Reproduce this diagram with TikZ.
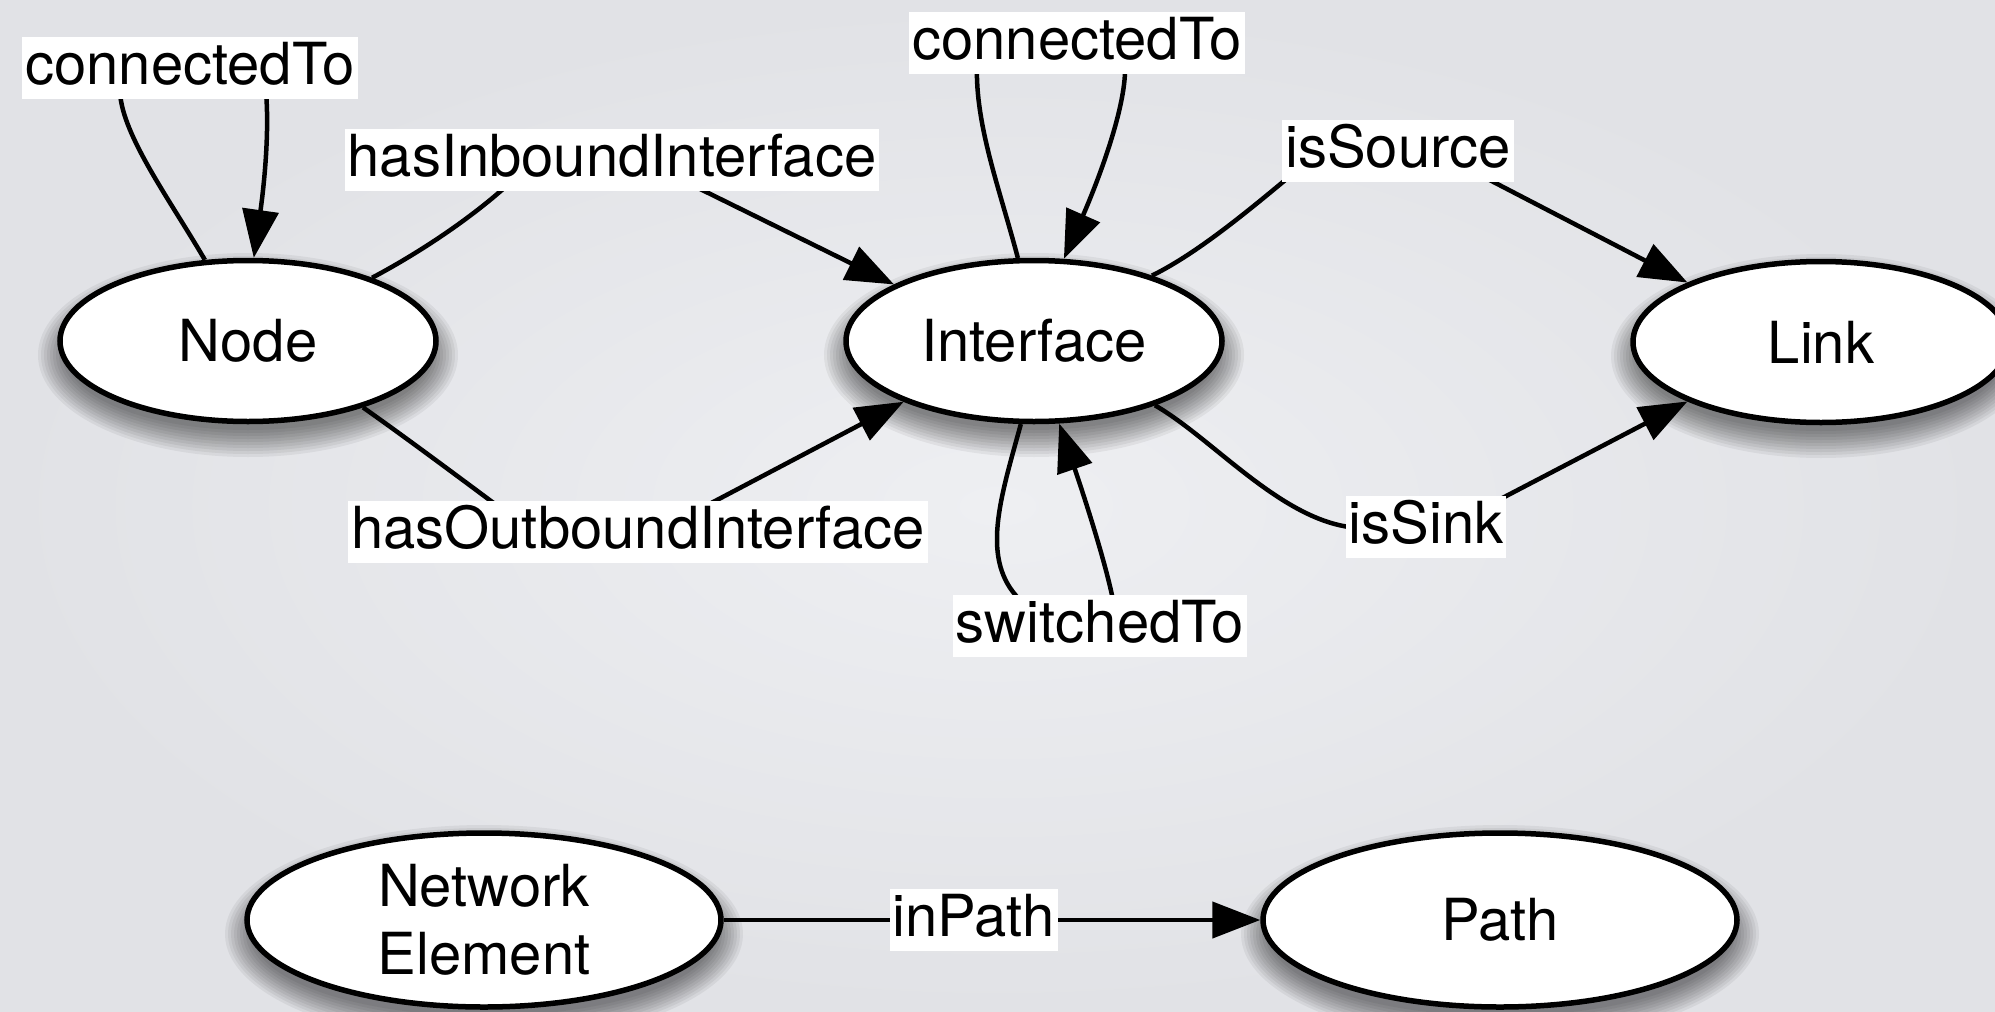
\documentclass[tikz,border=0pt]{standalone}
\usepackage{fontspec}
\setmainfont{TeX Gyre Heros}
\usetikzlibrary{arrows.meta,shapes.geometric,calc}
\pgfdeclarelayer{bg}
\pgfdeclarelayer{edges}
\pgfsetlayers{bg,edges,main}
\definecolor{bgin}{RGB}{238,239,242}
\definecolor{bgout}{RGB}{225,226,230}
\tikzset{
  cls/.style={ellipse, draw=black, line width=5.5pt, fill=white,
    minimum width=376pt, minimum height=161pt, inner sep=0pt,
    font=\fontsize{58}{68}\selectfont, align=center},
  bigcls/.style={cls, minimum width=474pt, minimum height=174pt},
  lbl/.style={fill=white, inner xsep=3pt, inner ysep=3pt, text height=44pt,
    text depth=12pt, font=\fontsize{58}{68}\selectfont},
  edge/.style={line width=4.5pt, -{Triangle[length=48pt,width=36pt]}}
}
\newcommand\clsshadow[3]{%
  \foreach \k in {0,...,9}{%
    \fill[black,opacity=0.055] ([yshift=-14pt]#1.center) ellipse
      [x radius={(#2-8+3*\k)*1pt}, y radius={(#3-8+3*\k)*1pt}];
  }}
\begin{document}
\begin{tikzpicture}[x=1pt,y=-1pt]
\useasboundingbox (0,0) rectangle (1995,1012);
\begin{pgfonlayer}{bg}
  \shade[inner color=bgin, outer color=bgout] (0,0) rectangle (1995,1012);
\end{pgfonlayer}

% classes
\node[cls] (nNode) at (248,341) {Node};
\node[cls] (nIface) at (1034,341) {Interface};
\node[cls] (nLink) at (1821,342) {Link};
\node[bigcls] (nNE) at (484,920) {Network\\Element};
\node[bigcls] (nPath) at (1500,920) {Path};

\begin{pgfonlayer}{bg}
  \clsshadow{nNode}{191}{83}
  \clsshadow{nIface}{191}{83}
  \clsshadow{nLink}{191}{83}
  \clsshadow{nNE}{240}{90}
  \clsshadow{nPath}{240}{90}
\end{pgfonlayer}

% edge labels
\node[lbl] (lA) at (190,68) {connectedTo};
\node[lbl] (lB) at (612,160) {hasInboundInterface};
\node[lbl] (lC) at (638,532) {hasOutboundInterface};
\node[lbl] (lD) at (1077,43) {connectedTo};
\node[lbl] (lE) at (1398,151) {isSource};
\node[lbl] (lF) at (1426,527) {isSink};
\node[lbl] (lG) at (1100,626) {switchedTo};

\begin{pgfonlayer}{edges}
\draw[edge] (nNode.118) .. controls (170,200) and (122,135) .. (120,92)
  .. controls (118,55) and (268,55) .. (266,92)
  .. controls (270,140) and (262,200) .. (nNode.86);
\draw[edge] (nNode.27) .. controls (415,255) and (470,220) .. (513,180)
  .. controls (540,155) and (660,165) .. (690,184) -- (nIface.158);
\draw[edge] (nNode.-30) .. controls (405,437) and (460,478) .. (503,510)
  .. controls (540,530) and (670,530) .. (698,510) -- (nIface.205);
\draw[edge] (nIface.101) .. controls (1000,190) and (975,125) .. (977,65)
  .. controls (978,45) and (1124,45) .. (1125,65)
  .. controls (1127,110) and (1092,195) .. (nIface.70);
\draw[edge] (nIface.29) .. controls (1200,252) and (1255,205) .. (1295,172)
  .. controls (1330,150) and (1450,150) .. (1480,175) -- (nLink.156);
\draw[edge] (nIface.-28) .. controls (1215,440) and (1285,525) .. (1360,528)
  .. controls (1420,530) and (1470,520) .. (1489,505) -- (nLink.204);
\draw[edge] (nIface.261) .. controls (1000,500) and (980,560) .. (1020,600)
  .. controls (1050,620) and (1100,620) .. (1113,600)
  .. controls (1105,560) and (1082,490) .. (nIface.-73);
\draw[edge] (nNE) -- node[lbl,pos=0.466] (lH) {inPath} (nPath);
\end{pgfonlayer}
\end{tikzpicture}
\end{document}
